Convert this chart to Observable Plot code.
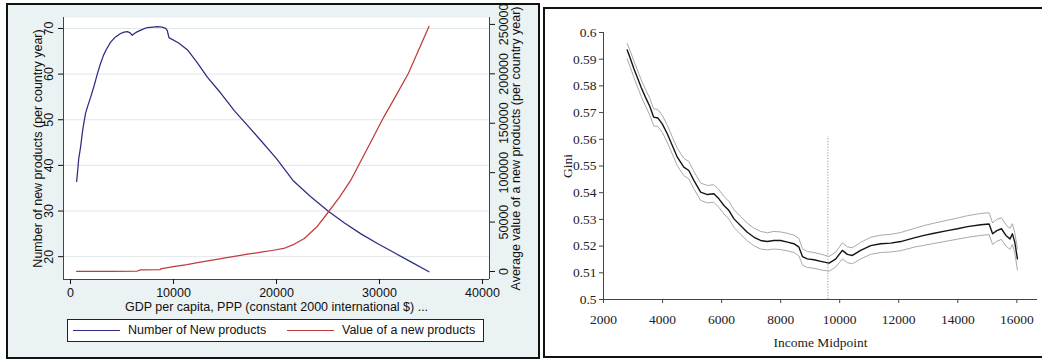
<!DOCTYPE html>
<html>
<head>
<meta charset="utf-8">
<script src="https://cdn.jsdelivr.net/npm/d3@7"></script>
<script src="https://cdn.jsdelivr.net/npm/@observablehq/plot@0.6"></script>
<style>
  html, body { margin: 0; padding: 0; background: #fff; width: 1042px; height: 360px; overflow: hidden; }
  #left { position: absolute; left: 6px; top: 3px; width: 530px; height: 352px; border: 2px solid #111; background: #eaf2f3; }
  #right { position: absolute; left: 543px; top: 7px; width: 499px; height: 347px; border: 2px solid #111; border-right: none; background: #fff; overflow: hidden; }
  .layer { position: absolute; left: 0; top: 0; }
  #legend { position: absolute; left: 59px; top: 314px; width: 415px; height: 21px; border: 1px solid #222; background: #fff;
            font-family: "Liberation Sans", Arial, sans-serif; font-size: 12.5px; color: #111; }
  .lg-item { position: absolute; top: 0; height: 21px; line-height: 21px; white-space: nowrap; }
  .lg-line { position: absolute; top: 10px; width: 47px; height: 0; border-top: 1.3px solid; }
  .lg-text { position: absolute; top: 0; }
</style>
</head>
<body>
<div id="left"></div>
<div id="right"></div>
<script>
// ---------------- Left panel data ----------------
const gdpBlue = [600, 700, 800, 970, 1200, 1460, 1700, 1950, 2300, 2600, 2900, 3200, 3500, 3900, 4300, 4860, 5200, 5540, 5800, 6000, 6200, 6500, 7000, 7450, 8000, 8450, 8900, 9240, 9400, 9560, 10500, 11400, 12300, 13300, 14600, 15900, 17200, 18500, 20000, 21600, 23300, 25000, 26600, 28200, 29800, 31400, 33100, 34800];
const newProducts = [36.5, 39, 41.5, 43.9, 48, 51.4, 53.2, 54.9, 57.5, 60, 62.2, 64.1, 65.5, 67, 68, 68.9, 69.2, 69.3, 69, 68.5, 68.9, 69.3, 69.8, 70.2, 70.3, 70.4, 70.3, 70, 69.5, 68, 66.8, 65.2, 62.5, 59.3, 55.8, 52, 48.7, 45.4, 41.5, 36.7, 33.2, 30, 27.4, 25, 22.9, 20.9, 18.8, 16.7];
const gdpRed = [600, 2000, 4000, 6500, 6800, 8700, 8750, 10000, 11300, 12600, 14200, 15900, 17200, 18500, 19700, 20700, 21700, 22700, 23900, 25000, 26100, 27200, 28800, 30400, 31600, 32800, 33800, 34800];
const newProductValue = [0, 0, 200, 500, 1700, 2000, 2700, 5000, 7000, 9400, 12200, 15200, 17500, 19500, 21500, 23300, 27500, 33400, 45000, 59700, 75000, 92100, 124000, 156000, 178000, 200400, 224000, 248000];
const gdpTicks = [0, 10000, 20000, 30000, 40000];
const countTicks = [20, 30, 40, 50, 60, 70];
const valueTicks = [0, 50000, 100000, 150000, 200000, 250000];
const seriesNames = ["Number of New products", "Value of a new products"];
const leftXTitle = "GDP per capita, PPP (constant 2000 international $) ...";
const leftYTitle = "Number of new products (per country year)";
const rightYTitle = "Average value of a new products (per country year)";

// ---------------- Right panel data ----------------
const income = [2800, 2915, 3030, 3140, 3280, 3420, 3570, 3700, 3840, 3990, 4160, 4330, 4500, 4720, 4890, 5060, 5290, 5520, 5740, 5910, 6080, 6250, 6420, 6640, 6870, 7100, 7320, 7550, 7770, 8000, 8230, 8450, 8620, 8740, 8900, 9130, 9360, 9640, 9860, 10090, 10260, 10430, 10710, 11050, 11390, 11730, 12070, 12520, 12860, 13200, 13650, 13990, 14330, 14780, 15060, 15180, 15320, 15480, 15630, 15770, 15850, 15930, 16020];
const giniMid = [.5935, .5901, .5864, .5833, .5793, .5758, .5723, .5683, .5680, .5658, .5621, .5577, .5533, .5496, .5483, .5446, .5402, .5393, .5396, .5377, .5352, .5333, .5302, .5277, .5252, .5233, .5221, .5217, .5221, .5221, .5215, .5209, .5196, .5161, .5152, .5149, .5143, .5136, .5151, .5184, .5169, .5165, .5184, .5202, .5209, .5211, .5217, .5231, .5240, .5248, .5258, .5265, .5273, .5280, .5283, .5246, .5258, .5265, .5240, .5227, .5246, .5215, .5152];
const giniUpper = [.5959, .5928, .5893, .5862, .5822, .5787, .5753, .5714, .5712, .5690, .5653, .5609, .5566, .5529, .5517, .5480, .5436, .5427, .5430, .5411, .5386, .5367, .5336, .5311, .5286, .5267, .5255, .5250, .5255, .5253, .5248, .5241, .5228, .5190, .5180, .5176, .5170, .5161, .5177, .5212, .5197, .5194, .5214, .5233, .5241, .5244, .5251, .5266, .5277, .5286, .5297, .5305, .5314, .5322, .5325, .5287, .5300, .5306, .5280, .5266, .5284, .5250, .5190];
const giniLower = [.5902, .5868, .5831, .5800, .5760, .5725, .5690, .5650, .5648, .5626, .5589, .5545, .5501, .5464, .5452, .5415, .5371, .5362, .5364, .5345, .5320, .5301, .5270, .5245, .5220, .5201, .5189, .5186, .5189, .5187, .5182, .5176, .5163, .5129, .5120, .5117, .5111, .5106, .5121, .5152, .5138, .5134, .5152, .5169, .5176, .5178, .5183, .5196, .5203, .5210, .5219, .5226, .5233, .5240, .5243, .5206, .5218, .5225, .5200, .5188, .5206, .5175, .5110];
const incomeTicks = [2000, 4000, 6000, 8000, 10000, 12000, 14000, 16000];
const giniTicks = [0.5, 0.51, 0.52, 0.53, 0.54, 0.55, 0.56, 0.57, 0.58, 0.59, 0.6];
const markerIncome = 9600;
const markerGiniTop = 0.561;
const rightXTitle = "Income Midpoint";
const rightYTitle2 = "Gini";

// ---------------- Styles ----------------
const blueColor = "#2c2c84";
const redColor = "#c23a3a";
const sans = "'Liberation Sans', Arial, sans-serif";
const serif = "'Liberation Serif', 'Times New Roman', serif";
const fsL = 12.5;
const fsR = 13.5;

// ---------------- Left panel ----------------
const xDomL = [-680, 40680];
const yDomCount = [15, 72.4];
const yDomValue = [-8100, 257000];
const dimsL = { width: 530, height: 310, marginLeft: 55, marginRight: 49, marginTop: 12, marginBottom: 36 };
const blueData = gdpBlue.map((g, i) => ({ gdp: g, v: newProducts[i] }));
const redData = gdpRed.map((g, i) => ({ gdp: g, v: newProductValue[i] }));
const fmtInt = d3.format("d");

const leftA = Plot.plot({
  ...dimsL,
  style: { background: "transparent", fontFamily: sans, fontSize: fsL + "px", color: "#111", overflow: "visible" },
  x: { domain: xDomL, label: null },
  y: { domain: yDomCount, label: null },
  marks: [
    Plot.frame({ fill: "white", stroke: null }),
    Plot.gridY(countTicks, { stroke: "#e2e6e8", strokeOpacity: 1 }),
    Plot.ruleX([xDomL[0]], { stroke: "#444" }),
    Plot.ruleY([yDomCount[0]], { stroke: "#444" }),
    Plot.axisY(countTicks, { anchor: "left", tickRotate: -90, tickSize: 5, tickPadding: 10, lineAnchor: "middle", fontSize: fsL, label: null }),
    Plot.axisX(gdpTicks, { anchor: "bottom", tickSize: 5, tickPadding: 4, tickFormat: fmtInt, fontSize: fsL, label: null }),
    Plot.text([leftYTitle], { frameAnchor: "left", dx: -26, rotate: -90, textAnchor: "middle", lineAnchor: "middle", fontSize: fsL }),
    Plot.text([leftXTitle], { frameAnchor: "bottom", dy: 27, textAnchor: "middle", lineAnchor: "middle", fontSize: fsL }),
    Plot.line(blueData, { x: "gdp", y: "v", stroke: blueColor, strokeWidth: 1.25 })
  ]
});
leftA.classList.add("layer");

const leftB = Plot.plot({
  ...dimsL,
  style: { background: "transparent", fontFamily: sans, fontSize: fsL + "px", color: "#111", overflow: "visible" },
  x: { domain: xDomL, axis: null, label: null },
  y: { domain: yDomValue, label: null },
  marks: [
    Plot.ruleX([xDomL[1]], { stroke: "#444" }),
    Plot.axisY(valueTicks, { anchor: "right", tickRotate: -90, tickSize: 5, tickPadding: 9, lineAnchor: "middle", tickFormat: fmtInt, fontSize: fsL, label: null }),
    Plot.text([rightYTitle], { frameAnchor: "right", dx: 26, rotate: -90, textAnchor: "middle", lineAnchor: "middle", fontSize: fsL }),
    Plot.line(redData, { x: "gdp", y: "v", stroke: redColor, strokeWidth: 1.25 })
  ]
});
leftB.classList.add("layer");

const left = document.getElementById("left");
left.appendChild(leftA);
left.appendChild(leftB);

// legend
const legend = document.createElement("div");
legend.id = "legend";
const legendOffsets = [5, 219];
const legendColors = [blueColor, redColor];
seriesNames.forEach((name, i) => {
  const item = document.createElement("div");
  item.className = "lg-item";
  item.style.left = legendOffsets[i] + "px";
  const ln = document.createElement("div");
  ln.className = "lg-line";
  ln.style.left = "0px";
  ln.style.borderTopColor = legendColors[i];
  const tx = document.createElement("span");
  tx.className = "lg-text";
  tx.style.left = "55px";
  tx.textContent = name;
  item.appendChild(ln);
  item.appendChild(tx);
  legend.appendChild(item);
});
left.appendChild(legend);

// ---------------- Right panel ----------------
const xDomR = [2000, 16700];
const yDomR = [0.5, 0.6];
const giniData = income.map((x, i) => ({ inc: x, mid: giniMid[i], up: giniUpper[i], lo: giniLower[i] }));

const right = Plot.plot({
  width: 497, height: 347,
  marginLeft: 58, marginRight: 5, marginTop: 23, marginBottom: 57,
  style: { background: "white", fontFamily: serif, fontSize: fsR + "px", color: "#222", overflow: "visible" },
  x: { domain: xDomR, label: null },
  y: { domain: yDomR, label: null },
  marks: [
    Plot.ruleX([xDomR[0]], { stroke: "#444" }),
    Plot.ruleY([yDomR[0]], { stroke: "#444" }),
    Plot.axisY(giniTicks, { anchor: "left", tickSize: 4, tickPadding: 3, tickFormat: d => String(d), stroke: "#444", fontSize: fsR, label: null }),
    Plot.axisX(incomeTicks, { anchor: "bottom", tickSize: 4, tickPadding: 11, tickFormat: fmtInt, stroke: "#444", fontSize: fsR, label: null }),
    Plot.text([rightYTitle2], { frameAnchor: "left", dx: -36, rotate: -90, textAnchor: "middle", lineAnchor: "middle", fontSize: fsR }),
    Plot.text([rightXTitle], { frameAnchor: "bottom", dy: 43, textAnchor: "middle", lineAnchor: "middle", fontSize: fsR }),
    Plot.ruleX([markerIncome], { y1: yDomR[0], y2: markerGiniTop, stroke: "#999", strokeWidth: 1, strokeDasharray: "1.2,1.6" }),
    Plot.line(giniData, { x: "inc", y: "up", stroke: "#a9a9a9", strokeWidth: 1 }),
    Plot.line(giniData, { x: "inc", y: "lo", stroke: "#a9a9a9", strokeWidth: 1 }),
    Plot.line(giniData, { x: "inc", y: "mid", stroke: "#151515", strokeWidth: 1.4 })
  ]
});
right.classList.add("layer");
document.getElementById("right").appendChild(right);
</script>
</body>
</html>
